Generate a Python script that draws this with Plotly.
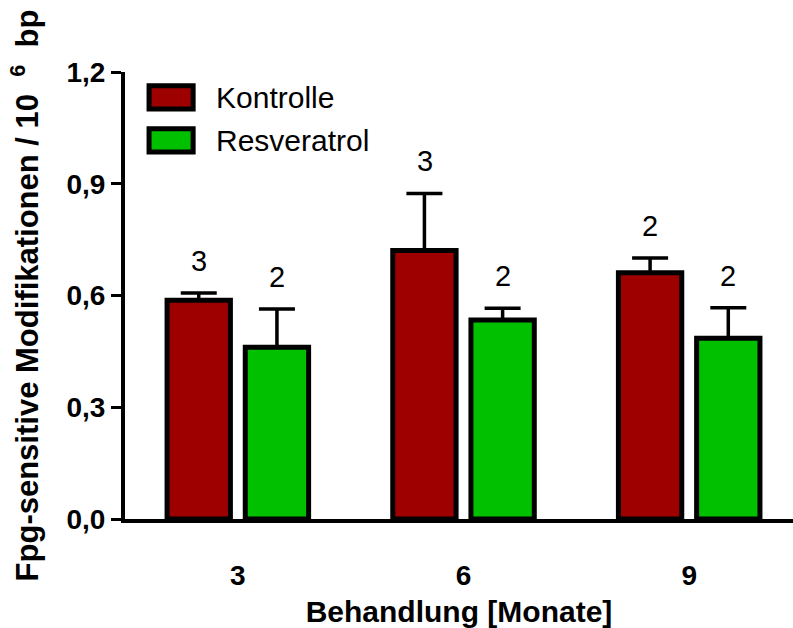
import plotly.graph_objects as go

# Behandlungsdauer in Monaten
months = ["3", "6", "9"]

# Mittelwerte und obere Fehlerbalken (SEM) je Gruppe
kontrolle_mean = [0.587, 0.721, 0.661]
kontrolle_err = [0.020, 0.153, 0.040]
resveratrol_mean = [0.461, 0.534, 0.485]
resveratrol_err = [0.103, 0.032, 0.082]

# Anzahl der Tiere (n) je Balken
kontrolle_n = [3, 3, 2]
resveratrol_n = [2, 2, 2]

series_names = ["Kontrolle", "Resveratrol"]
series_colors = ["#9e0000", "#00c000"]

y_ticks = [0.0, 0.3, 0.6, 0.9, 1.2]
y_ticktext = ["0,0", "0,3", "0,6", "0,9", "1,2"]

FONT = "Liberation Sans, Arial, Helvetica, sans-serif"

fig = go.Figure()

for name, color, mean, err in [
    (series_names[0], series_colors[0], kontrolle_mean, kontrolle_err),
    (series_names[1], series_colors[1], resveratrol_mean, resveratrol_err),
]:
    fig.add_trace(go.Bar(
        x=months,
        y=mean,
        name=name,
        marker=dict(color=color, line=dict(color="black", width=5)),
        error_y=dict(type="data", array=err, symmetric=False,
                     arrayminus=[0] * len(err),
                     color="black", thickness=3.5, width=18),
        showlegend=False,
    ))

# n-Angaben über den Fehlerbalken (x als Kategorie-Index)
for mean, err, ns, shift in [
    (kontrolle_mean, kontrolle_err, kontrolle_n, -39),
    (resveratrol_mean, resveratrol_err, resveratrol_n, 39),
]:
    for i in range(len(months)):
        fig.add_annotation(
            x=i, y=mean[i] + err[i], text=str(ns[i]),
            xref="x", yref="y", xshift=shift, yshift=14,
            yanchor="bottom", showarrow=False,
            font=dict(family=FONT, size=29, color="black"),
        )

# Legende als Kästchen mit Beschriftung
legend_rows = [0.943, 0.847]
for name, color, yc in zip(series_names, series_colors, legend_rows):
    fig.add_shape(
        type="rect", xref="paper", yref="paper",
        x0=0.036, x1=0.102, y0=yc - 0.026, y1=yc + 0.026,
        fillcolor=color, line=dict(color="black", width=5),
    )
    fig.add_annotation(
        x=0.133, y=yc, xref="paper", yref="paper", text=name,
        xanchor="left", yanchor="middle", showarrow=False,
        font=dict(family=FONT, size=30, color="black"),
    )

fig.update_layout(
    width=793, height=628,
    margin=dict(l=125, r=0, t=72, b=106),
    paper_bgcolor="white", plot_bgcolor="white",
    barmode="group", bargap=0.307, bargroupgap=0.19,
    font=dict(family=FONT, color="black"),
    xaxis=dict(
        type="category", range=[-0.5, 2.46],
        showline=True, linecolor="black", linewidth=4,
        ticks="", showgrid=False, zeroline=False,
        tickfont=dict(family=FONT, size=28, color="black", weight="bold"),
        ticklabelstandoff=28,
        title=dict(text="<b>Behandlung [Monate]</b>",
                   font=dict(family=FONT, size=30, color="black"), standoff=16),
    ),
    yaxis=dict(
        range=[0, 1.2], tickvals=y_ticks, ticktext=y_ticktext,
        showline=True, linecolor="black", linewidth=4,
        ticks="outside", ticklen=10, tickwidth=3, tickcolor="black",
        showgrid=False, zeroline=False,
        tickfont=dict(family=FONT, size=28, color="black", weight="bold"),
        title=dict(text="<b>Fpg-sensitive Modifikationen / 10&nbsp;&nbsp;<sup>6</sup>&nbsp;&nbsp;bp</b>",
                   font=dict(family=FONT, size=31, color="black"), standoff=20),
    ),
)

fig.write_html("out.html")
